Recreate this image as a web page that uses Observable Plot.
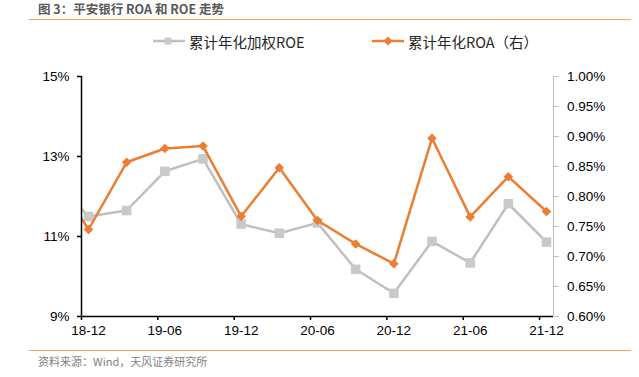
<!DOCTYPE html>
<html><head><meta charset="utf-8">
<script src="https://cdn.jsdelivr.net/npm/d3@7"></script>
<script src="https://cdn.jsdelivr.net/npm/@observablehq/plot@0.6"></script>
<style>
body{margin:0;background:#fff;}
#wrap{position:relative;width:639px;height:377px;overflow:hidden;font-family:"Noto Sans CJK SC",sans-serif;}
#title{position:absolute;left:38px;top:2px;font-size:12.5px;font-weight:bold;color:#595959;line-height:13px;white-space:nowrap;}
.hr{position:absolute;left:29px;width:602px;height:0;border-top:1.5px solid #F5A562;}
.leg{position:absolute;top:31px;height:20px;display:flex;align-items:center;font-size:14.5px;color:#262626;white-space:nowrap;}
.leg svg{margin-right:4px;}
#chart{position:absolute;left:0;top:60px;}
#src{position:absolute;left:38px;top:354px;font-size:11px;color:#7f7f7f;line-height:15px;white-space:nowrap;}
</style></head>
<body>
<div id="wrap">
  <div id="title">图 3：平安银行 ROA 和 ROE 走势</div>
  <div class="hr" style="top:19px"></div>
  <div class="leg" style="left:153px">
    <svg width="32" height="12"><line x1="0" y1="6" x2="32" y2="6" stroke="#BFBFBF" stroke-width="2.5"/><rect x="11.5" y="2.5" width="7" height="7" fill="#C9C9C9"/></svg>
    <span>累计年化加权ROE</span>
  </div>
  <div class="leg" style="left:372px">
    <svg width="32" height="12"><line x1="0" y1="6" x2="32" y2="6" stroke="#ED7D31" stroke-width="2.5"/><path d="M16 1.5 L20.5 6 L16 10.5 L11.5 6 Z" fill="#ED7D31"/></svg>
    <span>累计年化ROA（右）</span>
  </div>
  <div id="chart"></div>
  <div class="hr" style="top:350px"></div>
  <div id="src">资料来源：Wind，天风证券研究所</div>
</div>
<script>
// Quarters (first one lies just outside the plotted range and is clipped)
const quarters = ["18-09","18-12","19-03","19-06","19-09","19-12","20-03","20-06","20-09","20-12","21-03","21-06","21-09","21-12"];
const roe = [12.57, 11.50, 11.65, 12.63, 12.94, 11.31, 11.08, 11.34, 10.18, 9.58, 10.88, 10.34, 11.82, 10.86];
const roa = [0.845, 0.745, 0.857, 0.880, 0.884, 0.767, 0.848, 0.760, 0.721, 0.688, 0.897, 0.766, 0.833, 0.775];
const xTickLabels = ["18-12","19-06","19-12","20-06","20-12","21-06","21-12"];
const roeTicks = [9, 11, 13, 15];
const roaTicks = [0.60, 0.65, 0.70, 0.75, 0.80, 0.85, 0.90, 0.95, 1.00];

const toLeft = v => 9 + (v - 0.60) * (15 - 9) / (1.00 - 0.60);
const rows = quarters.map((q, k) => ({i: k - 1, q, roe: roe[k], roa: roa[k], roaL: toLeft(roa[k])}));
const pad = 0.183;
const nLast = quarters.length - 2;
const labelIdx = xTickLabels.map(l => quarters.indexOf(l) - 1);

const font = {fontFamily: "'Liberation Sans', Arial, sans-serif", fontSize: "13.5px", color: "#000", background: "transparent", overflow: "visible"};

const chart = Plot.plot({
  width: 639, height: 285,
  marginLeft: 81, marginRight: 86, marginTop: 16, marginBottom: 29,
  style: font,
  x: {type: "linear", domain: [-pad, nLast + pad], axis: null, label: null},
  y: {domain: [9, 15], axis: null, label: null},
  marks: [
    Plot.ruleX([nLast + pad], {stroke: "#BFBFBF", strokeWidth: 1}),
    Plot.line(rows, {x: "i", y: "roe", stroke: "#BFBFBF", strokeWidth: 2.5, clip: true}),
    Plot.dot(rows, {x: "i", y: "roe", symbol: "square", r: 5.4, fill: "#C9C9C9", stroke: null, clip: true}),
    Plot.line(rows, {x: "i", y: "roaL", stroke: "#ED7D31", strokeWidth: 2.5, clip: true}),
    Plot.dot(rows, {x: "i", y: "roaL", symbol: "diamond2", r: 4.3, fill: "#ED7D31", stroke: null, clip: true}),
    Plot.ruleX([-pad], {stroke: "#000", strokeWidth: 1.5}),
    Plot.ruleY([9], {stroke: "#000", strokeWidth: 1.5}),
    Plot.axisY({anchor: "left", label: null, ticks: roeTicks, tickSize: 4, tickPadding: 8, tickFormat: d => d + "%", stroke: "#000", strokeWidth: 1.5}),
    Plot.axisY({anchor: "right", label: null, ticks: roaTicks.map(toLeft), tickSize: 5, tickPadding: 8.5, stroke: "#BFBFBF",
      tickFormat: v => roaTicks[Math.round((v - 9) / 0.75)].toFixed(2) + "%"}),
    Plot.axisX({anchor: "bottom", label: null, ticks: labelIdx.map(i => i - pad), tickSize: 4, tickFormat: () => "", stroke: "#000", strokeWidth: 1.5}),
    Plot.axisX({anchor: "bottom", label: null, ticks: labelIdx, tickSize: 0, tickPadding: 9, tickFormat: i => quarters[i + 1]})
  ]
});
document.getElementById("chart").appendChild(chart);
</script>
</body></html>
